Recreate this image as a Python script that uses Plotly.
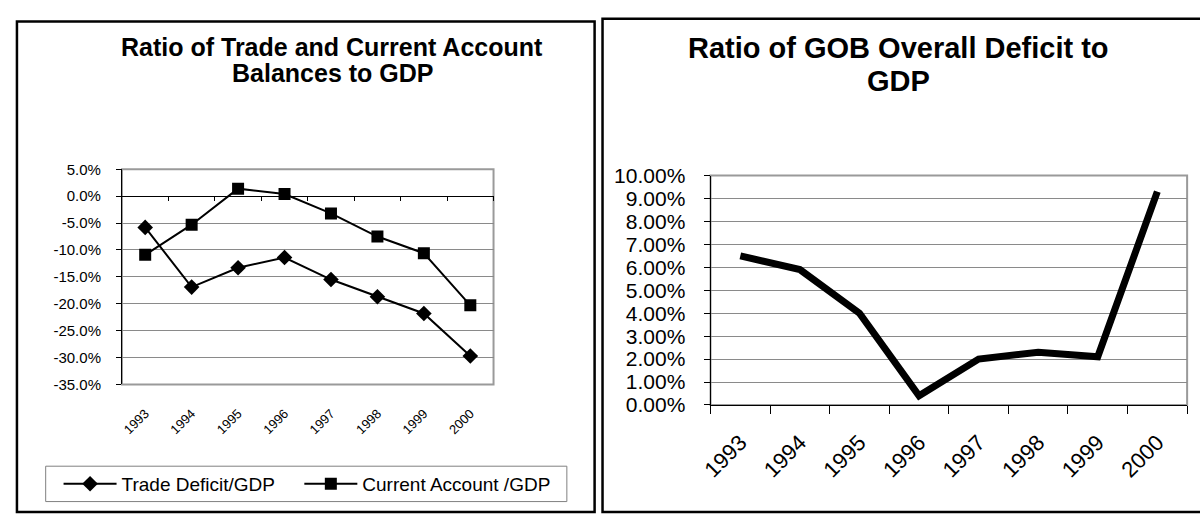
import plotly.graph_objects as go

# ---------------- data ----------------
years = ["1993", "1994", "1995", "1996", "1997", "1998", "1999", "2000"]
trade_deficit_gdp = [-5.8, -16.9, -13.3, -11.4, -15.5, -18.7, -21.8, -29.7]
current_account_gdp = [-10.9, -5.3, 1.4, 0.4, -3.2, -7.5, -10.6, -20.3]
gob_deficit_gdp = [6.5, 5.9, 4.0, 0.4, 2.0, 2.3, 2.1, 9.3]

left_ticks = [5, 0, -5, -10, -15, -20, -25, -30, -35]
right_ticks = [0, 1, 2, 3, 4, 5, 6, 7, 8, 9, 10]

left_title_lines = ["Ratio of Trade and Current Account", "Balances to GDP"]
right_title_lines = ["Ratio of GOB Overall Deficit to", "GDP"]

# ---------------- layout helpers ----------------
W, H = 1200, 525
FONT = "Arial, Liberation Sans, sans-serif"


def px(x):
    return x / W


def py(y):
    return 1 - y / H


L_X = [px(112), px(487)]
L_Y = [py(389.5), py(164.5)]
R_X = [px(706), px(1187)]
R_Y = [py(411), py(171)]

fig = go.Figure()

fig.add_trace(go.Scatter(
    x=years, y=trade_deficit_gdp, name="Trade Deficit/GDP",
    mode="lines+markers", xaxis="x", yaxis="y", legend="legend",
    line=dict(color="black", width=2),
    marker=dict(symbol="diamond", size=12, color="black"),
))
fig.add_trace(go.Scatter(
    x=years, y=current_account_gdp, name="Current Account /GDP",
    mode="lines+markers", xaxis="x3", yaxis="y", legend="legend2",
    line=dict(color="black", width=2),
    marker=dict(symbol="square", size=12, color="black"),
))
fig.add_trace(go.Scatter(
    x=years, y=gob_deficit_gdp, name="GOB Overall Deficit/GDP",
    mode="lines", xaxis="x2", yaxis="y2", showlegend=False,
    line=dict(color="black", width=7),
))

zero_pos = L_Y[0] + (0 - (-35)) / 40 * (L_Y[1] - L_Y[0])

annotations = []
for text, yy in zip(left_title_lines, [37, 64]):
    annotations.append(dict(
        text=f"<b>{text}</b>", x=px(324), y=py(yy), xref="paper", yref="paper",
        xanchor="center", yanchor="middle", showarrow=False,
        font=dict(size=25, family=FONT, color="black")))
for text, yy in zip(right_title_lines, [38, 72]):
    annotations.append(dict(
        text=f"<b>{text}</b>", x=px(896), y=py(yy), xref="paper", yref="paper",
        xanchor="center", yanchor="middle", showarrow=False,
        font=dict(size=29, family=FONT, color="black")))

legend_style = dict(
    orientation="h", xanchor="left", yanchor="middle",
    font=dict(size=19, family=FONT, color="black"), bgcolor="rgba(0,0,0,0)",
    borderwidth=0, itemwidth=53,
)

fig.update_layout(
    width=W, height=H,
    margin=dict(l=0, r=0, t=0, b=0),
    paper_bgcolor="white", plot_bgcolor="white",
    font=dict(family=FONT, color="black"),
    showlegend=True,
    legend=dict(x=px(48), y=py(493.5), **legend_style),
    legend2=dict(x=px(291), y=py(493.5), **legend_style),
    xaxis=dict(
        domain=L_X, anchor="y", type="category", range=[-0.5, 7.5],
        showgrid=False, tickangle=-45, tickfont=dict(size=13),
        ticks="", showline=False, zeroline=False, ticklabelstandoff=18,
    ),
    xaxis3=dict(
        overlaying="x", matches="x", anchor="free", position=zero_pos,
        type="category", tickson="boundaries", ticks="outside", ticklen=4,
        tickcolor="black", showticklabels=False, showgrid=False,
        showline=True, linecolor="black", linewidth=1,
    ),
    yaxis=dict(
        domain=L_Y, anchor="x", range=[-35, 5],
        tickvals=left_ticks, ticktext=[f"{v:.1f}%" for v in left_ticks],
        tickfont=dict(size=15), showgrid=True, gridcolor="#8a8a8a", gridwidth=1,
        zeroline=False, showline=True, linecolor="black", linewidth=1,
        ticks="outside", ticklen=5, tickcolor="black", ticklabelstandoff=12,
    ),
    xaxis2=dict(
        domain=R_X, anchor="y2", type="category", range=[-0.5, 7.5],
        tickson="boundaries", ticks="outside", ticklen=8, tickcolor="black",
        showgrid=False, tickangle=-45, tickfont=dict(size=22),
        showline=True, linecolor="black", linewidth=1, zeroline=False,
        ticklabelstandoff=15,
    ),
    yaxis2=dict(
        domain=R_Y, anchor="x2", range=[0, 10],
        tickvals=right_ticks, ticktext=[f"{v:.2f}%" for v in right_ticks],
        tickfont=dict(size=21), showgrid=True, gridcolor="#8a8a8a", gridwidth=1,
        zeroline=False, showline=True, linecolor="black", linewidth=1,
        ticks="outside", ticklen=6, tickcolor="black", ticklabelstandoff=14,
    ),
    annotations=annotations,
    shapes=[
        # panel borders
        dict(type="rect", xref="paper", yref="paper", x0=px(6), x1=px(589), y0=py(523), y1=py(10),
             line=dict(color="black", width=2.5)),
        dict(type="rect", xref="paper", yref="paper", x0=px(597), x1=px(1210), y0=py(523), y1=py(7),
             line=dict(color="black", width=2.5)),
        # plot area frames (gray)
        dict(type="rect", xref="x domain", yref="y domain", x0=0, x1=1, y0=0, y1=1,
             line=dict(color="#9a9a9a", width=2), layer="below"),
        dict(type="rect", xref="x2 domain", yref="y2 domain", x0=0, x1=1, y0=0, y1=1,
             line=dict(color="#9a9a9a", width=2), layer="below"),
        # legend box
        dict(type="rect", xref="paper", yref="paper", x0=px(35), x1=px(561), y0=py(512), y1=py(475),
             line=dict(color="#808080", width=1)),
    ],
)

fig.write_html(
    "out.html",
    config={"displayModeBar": False},
    post_script="document.body.style.margin='0px';",
)
